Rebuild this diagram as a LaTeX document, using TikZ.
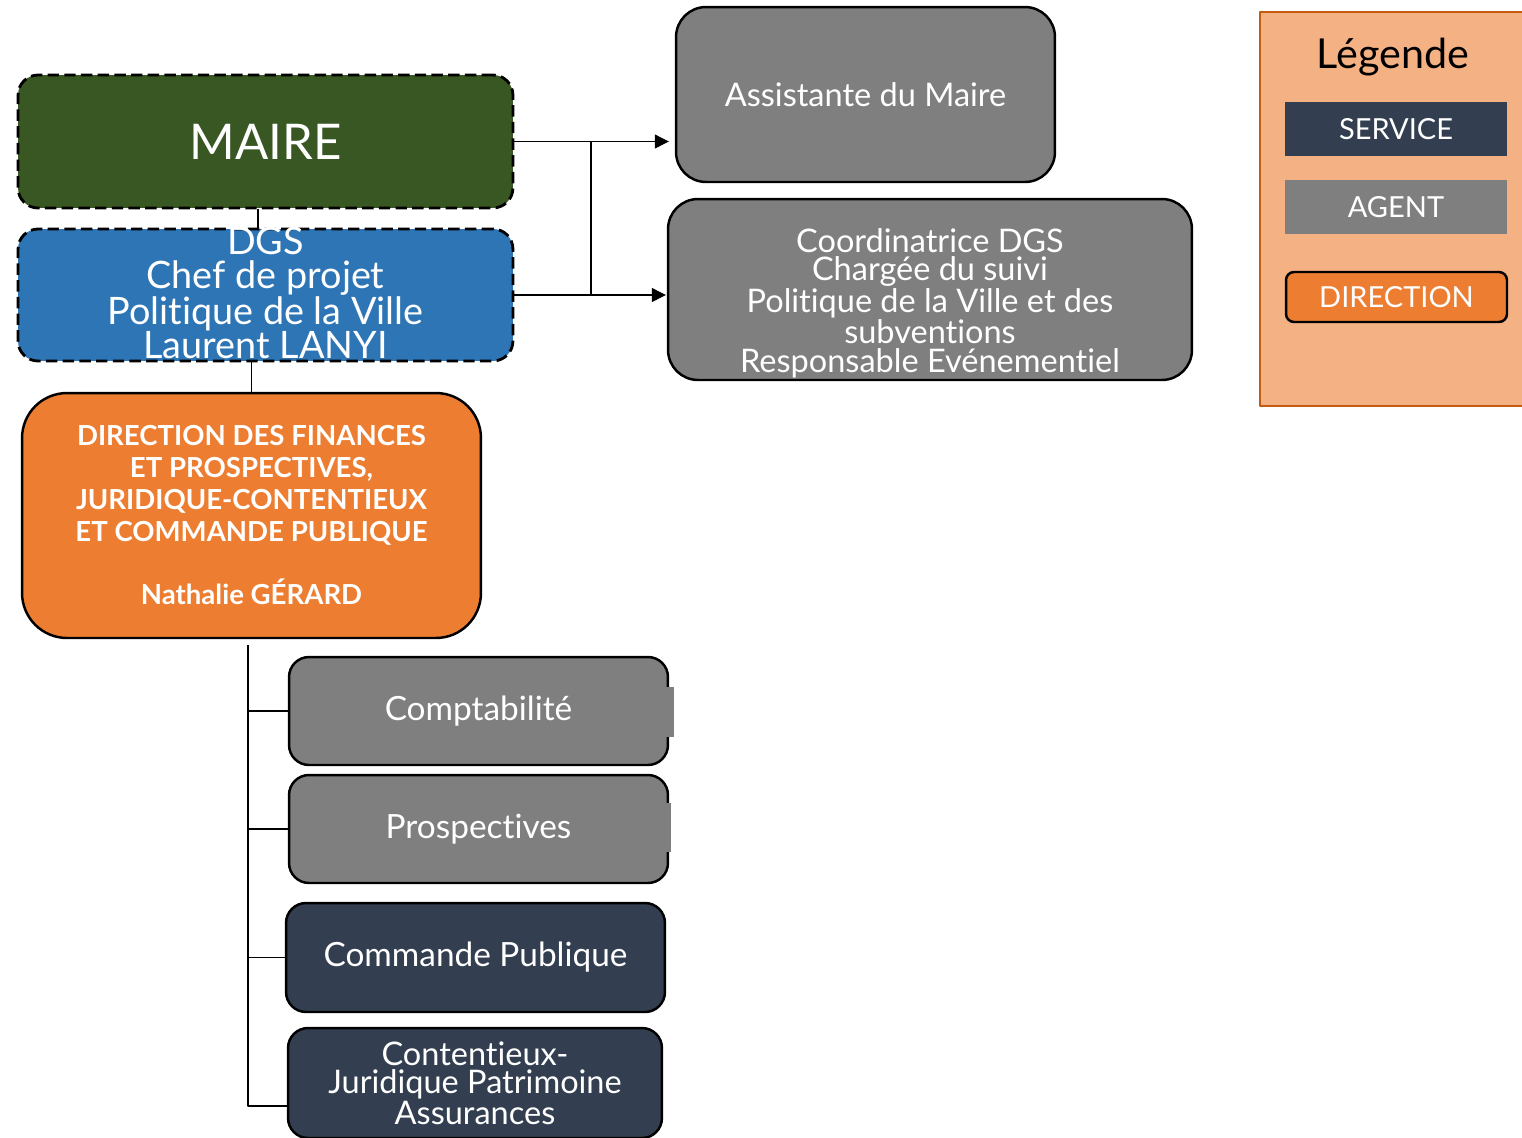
\documentclass[tikz,border=0pt]{standalone}
\usepackage{fontspec}
\setmainfont{Lato}[Ligatures=NoCommon]
\usetikzlibrary{arrows.meta}

\definecolor{mairegreen}{HTML}{385723}
\definecolor{dgsblue}{HTML}{2E75B6}
\definecolor{agentgray}{HTML}{7F7F7F}
\definecolor{servicenavy}{HTML}{333F50}
\definecolor{dirorange}{HTML}{ED7D31}
\definecolor{legfill}{HTML}{F4B183}
\definecolor{legline}{HTML}{C55A11}

\tikzset{
	box/.style={rectangle, draw=black, line width=1.4pt, text=white, align=center, inner sep=0pt},
	headbox/.style={box, fill=#1, line width=1.6pt, rounded corners=0.4cm, dash pattern=on 6.5pt off 3pt, minimum width=9.9cm},
	agentbox/.style={box, fill=agentgray, rounded corners=0.4cm, font=\fontsize{18.5}{16.4}\selectfont},
	servicebox/.style={box, fill=servicenavy, rounded corners=0.4cm, font=\fontsize{18.5}{16.4}\selectfont},
	boxtext/.style={text=white, align=center, inner sep=0pt},
	legitem/.style={rectangle, text=white, inner sep=0pt, minimum width=4.44cm, font=\fontsize{16.5}{20}\selectfont},
	link/.style={line width=0.6pt}
}

\begin{document}
\begin{tikzpicture}[x=0.02cm, y=-0.02cm, line join=round, >={Triangle[length=8pt,width=8pt]}]
	\useasboundingbox (0,0) rectangle (1522,1137);
	\clip (0,0) rectangle (1522,1137);
	% maire et dgs
	\node[headbox=mairegreen, minimum height=2.66cm, font=\fontsize{28}{34}\selectfont] (maire) at (265.5,141.5) {MAIRE};
	\node[headbox=dgsblue, minimum height=2.64cm] (dgs) at (265.5,295) {};
	\node[boxtext, font=\fontsize{21.5}{19.3}\selectfont] (dgs-t) at (265.5,293) {DGS\\Chef de projet\\Politique de la Ville\\Laurent LANYI};
	% agents rattaches
	\node[agentbox, rounded corners=0.6cm, minimum width=7.58cm, minimum height=3.5cm] (assist) at (865.5,94.5) {Assistante du Maire};
	\node[agentbox, rounded corners=0.6cm, minimum width=10.48cm, minimum height=3.62cm] (coord) at (930,289.5) {};
	\node[boxtext, font=\fontsize{18.5}{16.2}\selectfont] (coord-t) at (930,303) {Coordinatrice DGS\\Chargée du suivi\\Politique de la Ville et des\\subventions\\Responsable Evénementiel};
	% direction
	\node[box, fill=dirorange, rounded corners=0.9cm, minimum width=9.18cm, minimum height=4.9cm, font=\fontsize{15.7}{18.1}\bfseries] (dir) at (251.5,515.5) {DIRECTION DES FINANCES\\ET PROSPECTIVES,\\JURIDIQUE-CONTENTIEUX\\ET COMMANDE PUBLIQUE\\[18.1pt]Nathalie GÉRARD};
	% services
	\node[agentbox, minimum width=7.58cm, minimum height=2.16cm, font=\fontsize{19}{17}\selectfont] (compta) at (478.5,711) {Comptabilité};
	\node[agentbox, minimum width=7.58cm, minimum height=2.16cm, font=\fontsize{19}{17}\selectfont] (prosp) at (478.5,829) {Prospectives};
	\node[servicebox, minimum width=7.58cm, minimum height=2.18cm, font=\fontsize{19}{17}\selectfont] (cmd) at (475.5,957.5) {Commande Publique};
	\node[servicebox, minimum width=7.48cm, minimum height=2.2cm] (ctx) at (475,1083) {Contentieux-\\Juridique Patrimoine\\Assurances};
	\fill[agentgray] (666,687) rectangle (674,737);
	\fill[agentgray] (666,803) rectangle (671,852);
	% liaisons
	\coordinate (split) at (591,142);
	\coordinate (trunk) at (248,645);
	\coordinate (trunk-end) at (248,1106);
	\draw[link, ->, shorten >=0.12cm] (maire.east) -- (maire.east -| assist.west);
	\draw[link, ->, shorten >=0.02cm] (dgs.east) -- (dgs.east -| coord.west);
	\draw[link] (split) -- (split |- dgs.east);
	\draw[link] ([xshift=-0.15cm]maire.south) -- ([xshift=-0.15cm]maire.south |- dgs.north);
	\draw[link] (dir.north) -- (dir.north |- dgs.south);
	\draw[link] (trunk) -- (trunk-end) -- (trunk-end -| ctx.west);
	\draw[link] (trunk |- compta.west) -- (compta.west);
	\draw[link] (trunk |- prosp.west) -- (prosp.west);
	\draw[link] (trunk |- cmd.west) -- (cmd.west);
	% legende
	\draw[legline, fill=legfill, line width=1.4pt] (1260,12) rectangle (1540,406);
	\node[inner sep=0pt, font=\fontsize{23.5}{28}\selectfont] (leg-title) at (1393,57) {Légende};
	\node[legitem, fill=servicenavy, minimum height=1.08cm] (leg-service) at (1396,129) {SERVICE};
	\node[legitem, fill=agentgray, minimum height=1.08cm] (leg-agent) at (1396,207) {AGENT};
	\node[legitem, fill=dirorange, draw=black, line width=1.4pt, rounded corners=0.16cm, minimum width=4.42cm, minimum height=1cm] (leg-dir) at (1396.5,297) {DIRECTION};
\end{tikzpicture}
\end{document}
